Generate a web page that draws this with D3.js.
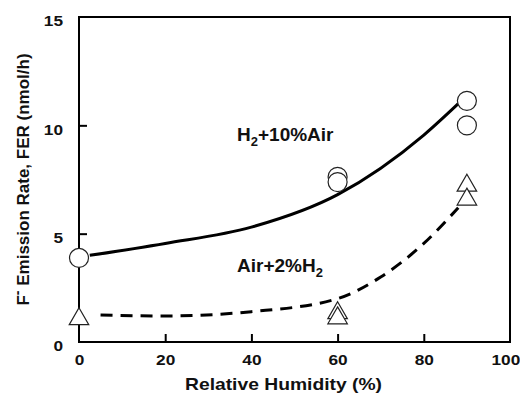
<!DOCTYPE html>
<html>
<head>
<meta charset="utf-8">
<script src="https://cdn.jsdelivr.net/npm/d3@7"></script>
<style>
  body { margin: 0; background: #fff; }
  text { font-family: "Liberation Sans", Arial, sans-serif; font-weight: bold; fill: #111; }
</style>
</head>
<body>
<svg width="520" height="394"></svg>
<script>
// Meetpunten (cirkels = H2+10%Air, driehoeken = Air+2%H2)
const circleX = [0, 60, 60, 90, 90];
const circleY = [3.88, 7.62, 7.38, 11.13, 10.0];
const triX = [0, 60, 60, 90, 90];
const triY = [1.06, 1.34, 1.1, 7.22, 6.58];

// Trendlijnen
const solidX = [2.5, 20, 40, 60, 80, 88];
const solidY = [4.0, 4.55, 5.3, 6.8, 9.55, 11.0];
const dashX = [5, 20, 40, 60, 70, 80, 88];
const dashY = [1.25, 1.2, 1.4, 2.0, 3.0, 4.55, 6.2];

const xTicks = [0, 20, 40, 60, 80, 100];
const yTicks = [0, 5, 10, 15];

const margin = { top: 17, right: 10, bottom: 52, left: 79 };
const width = 520, height = 394;

const svg = d3.select("svg");

const x = d3.scaleLinear().domain([0, 100]).range([margin.left, width - margin.right]);
const y = d3.scaleLinear().domain([0, 15]).range([height - margin.bottom, margin.top]);

// kader
svg.append("rect")
  .attr("x", x(0)).attr("y", y(15))
  .attr("width", x(100) - x(0)).attr("height", y(0) - y(15))
  .attr("fill", "none").attr("stroke", "#000").attr("stroke-width", 2);

// assen met ticks naar binnen
const xAxis = svg.append("g")
  .attr("transform", `translate(0,${y(0)})`)
  .call(d3.axisBottom(x).tickValues(xTicks).tickSize(-8).tickPadding(12));
const yAxis = svg.append("g")
  .attr("transform", `translate(${x(0)},0)`)
  .call(d3.axisLeft(y).tickValues(yTicks).tickSize(-8));

[xAxis, yAxis].forEach(g => {
  g.select(".domain").remove();
  g.selectAll("line").attr("stroke", "#000").attr("stroke-width", 2);
  g.selectAll("text").style("font-size", "15px").attr("fill", "#111");
});
xAxis.selectAll(".tick").filter(d => d === 0 || d === 100).select("line").remove();
yAxis.selectAll(".tick").filter(d => d === 0 || d === 15).select("line").remove();

// tekst iets breder, zoals in het origineel
xAxis.selectAll("text").attr("transform", "scale(1.15,1)");
xAxis.selectAll(".tick").filter(d => d === 100).select("text").attr("x", -4);
yAxis.selectAll("text")
  .attr("x", 0).attr("dy", "0.45em")
  .attr("transform", "translate(-16,2) scale(1.15,1)");

// curves
const line = d3.line().x(d => x(d[0])).y(d => y(d[1])).curve(d3.curveMonotoneX);

svg.append("path")
  .datum(d3.zip(solidX, solidY))
  .attr("d", line)
  .attr("fill", "none").attr("stroke", "#000").attr("stroke-width", 3);

svg.append("path")
  .datum(d3.zip(dashX, dashY))
  .attr("d", line)
  .attr("fill", "none").attr("stroke", "#000").attr("stroke-width", 3)
  .attr("stroke-dasharray", "12,8");

// markers
svg.append("g").selectAll("circle")
  .data(d3.zip(circleX, circleY))
  .join("circle")
  .attr("cx", d => x(d[0])).attr("cy", d => y(d[1])).attr("r", 9.5)
  .attr("fill", "#fff").attr("stroke", "#222").attr("stroke-width", 1.2);

const tri = d3.symbol().type(d3.symbolTriangle).size(165);
svg.append("g").selectAll("path")
  .data(d3.zip(triX, triY))
  .join("path")
  .attr("d", tri)
  .attr("transform", d => `translate(${x(d[0])},${y(d[1])})`)
  .attr("fill", "#fff").attr("stroke", "#222").attr("stroke-width", 1.2);

// labels
const lab1 = svg.append("text").attr("x", 237).attr("y", 141).style("font-size", "19px");
lab1.append("tspan").text("H");
lab1.append("tspan").text("2").attr("dy", 5).style("font-size", "13px");
lab1.append("tspan").text("+10%Air").attr("dy", -5);

const lab2 = svg.append("text").attr("x", 237).attr("y", 272).style("font-size", "19px");
lab2.append("tspan").text("Air+2%H");
lab2.append("tspan").text("2").attr("dy", 5).style("font-size", "13px");

// astitels
svg.append("text")
  .attr("x", 185).attr("y", 390)
  .attr("textLength", 197).attr("lengthAdjust", "spacingAndGlyphs")
  .style("font-size", "17px")
  .text("Relative Humidity (%)");

const yt = svg.append("text")
  .attr("transform", `translate(29,${(y(0) + y(15)) / 2}) rotate(-90)`)
  .attr("text-anchor", "middle").style("font-size", "17px");
yt.append("tspan").text("F");
yt.append("tspan").text("-").attr("dy", -7).style("font-size", "14px");
yt.append("tspan").text(" Emission Rate, FER (nmol/h)").attr("dy", 7);
</script>
</body>
</html>
